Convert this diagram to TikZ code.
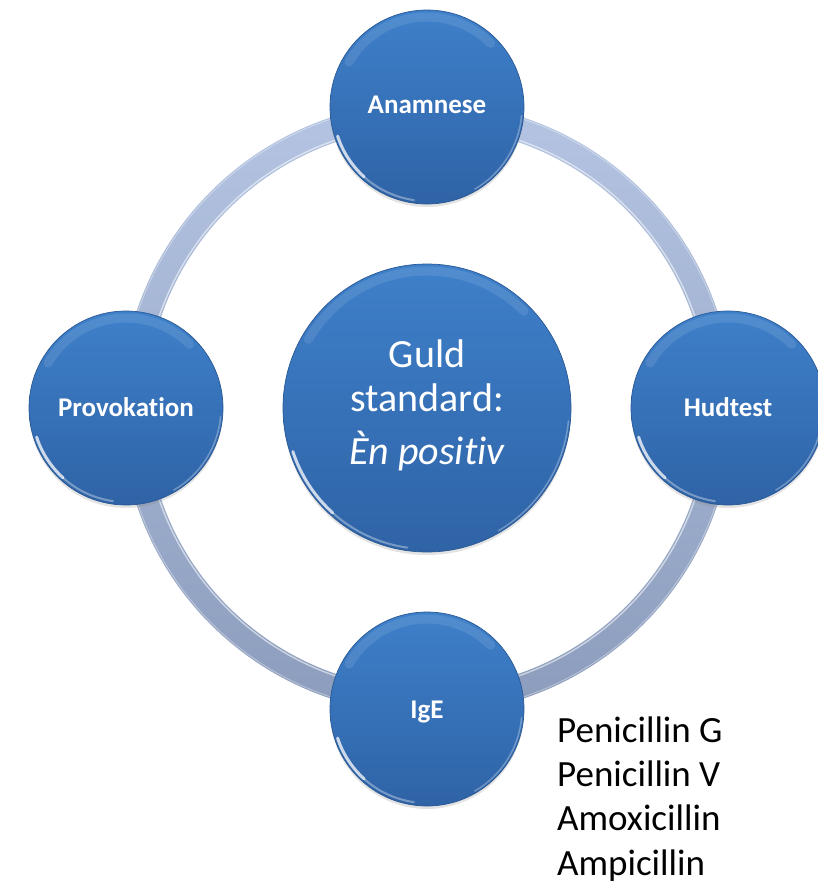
\documentclass[tikz,border=0pt]{standalone}
\usepackage{fontspec}
\setmainfont{Carlito}[Ligatures={NoCommon,NoContextual}, Contextuals=NoAlternate]
\usetikzlibrary{shadows}

\definecolor{balltop}{RGB}{62,128,202}
\definecolor{ballbot}{RGB}{47,99,166}
\definecolor{ballrim}{RGB}{42,88,148}
\definecolor{ringtop}{RGB}{180,196,226}
\definecolor{ringbot}{RGB}{140,156,188}

% break the t-i ligature of the font
\newcommand\nolig{\kern0pt}

\tikzset{
  ball/.style={circle, minimum size=#1, inner sep=0pt,
    top color=balltop, bottom color=ballbot, draw=ballrim, line width=0.7pt,
    drop shadow={opacity=0.22, shadow xshift=0pt, shadow yshift=-3pt}},
  shine/.style={white, line cap=round, line width=3pt, opacity=0.75},
  glow/.style={white, line cap=round, line width=9pt, opacity=0.10},
  balltext/.style={anchor=base, text=white, font=\bfseries\fontsize{27}{32}\selectfont, inner sep=0pt},
  coretext/.style={anchor=base, text=white, font=\fontsize{40}{46}\selectfont, inner sep=0pt},
  listtext/.style={anchor=base west, text=black, font=\fontsize{37}{44}\selectfont, inner sep=0pt}
}

\begin{document}
\begin{tikzpicture}[x=1pt,y=1pt]
\useasboundingbox (0,0) rectangle (818,-884);

% centre of the cycle
\coordinate (hub) at (427,-408);

% the ring joining the four steps
\shade[top color=ringtop, bottom color=ringbot, even odd rule]
  (hub) circle[radius=306] (hub) circle[radius=281];
\draw[white, opacity=0.55, line width=1.4pt] (hub) circle[radius=283];
\draw[white, opacity=0.35, line width=1pt] (hub) circle[radius=304.5];

% the five discs
\node[ball=194pt] (anam) at (427,-107) {};
\node[ball=194pt] (hud)  at (728,-408) {};
\node[ball=194pt] (ige)  at (427,-709) {};
\node[ball=194pt] (prov) at (126,-408) {};
\node[ball=288pt] (core) at (hub) {};

% glossy rim highlights
\foreach \n/\r in {anam/97,hud/97,ige/97,prov/97,core/144}{
  \draw[glow] ([shift={(45:\r-7)}]\n.center) arc[start angle=45, end angle=150, radius=\r-7];
  \draw[shine] ([shift={(198:\r-3)}]\n.center) arc[start angle=198, end angle=228, radius=\r-3];
  \draw[shine, opacity=0.35, line width=2pt] ([shift={(228:\r-3)}]\n.center) arc[start angle=228, end angle=262, radius=\r-3];
  \draw[white, opacity=0.3, line width=1.5pt] ([shift={(300:\r-2)}]\n.center) arc[start angle=300, end angle=355, radius=\r-2];
}

% labels of the steps
\node[balltext] (anamtxt) at (427,-113) {Anamnese};
\node[balltext] (hudtxt)  at (728,-416) {Hudtest};
\node[balltext] (igetxt)  at (427,-718) {IgE};
\node[balltext] (provtxt) at (126,-416) {Provokat\nolig ion};

% centre text
\node[coretext] (core1) at (427,-367) {Guld};
\node[coretext] (core2) at (427,-411) {standard:};
\node[coretext] (core3) at (427,-464) {\itshape Èn posit\nolig iv};

% list of penicillins
\node[listtext] (pg)   at (557,-742) {Penicillin G};
\node[listtext] (pv)   at (557,-786) {Penicillin V};
\node[listtext] (amox) at (557,-830) {Amoxicillin};
\node[listtext] (ampi) at (557,-875) {Ampicillin};
\end{tikzpicture}
\end{document}
